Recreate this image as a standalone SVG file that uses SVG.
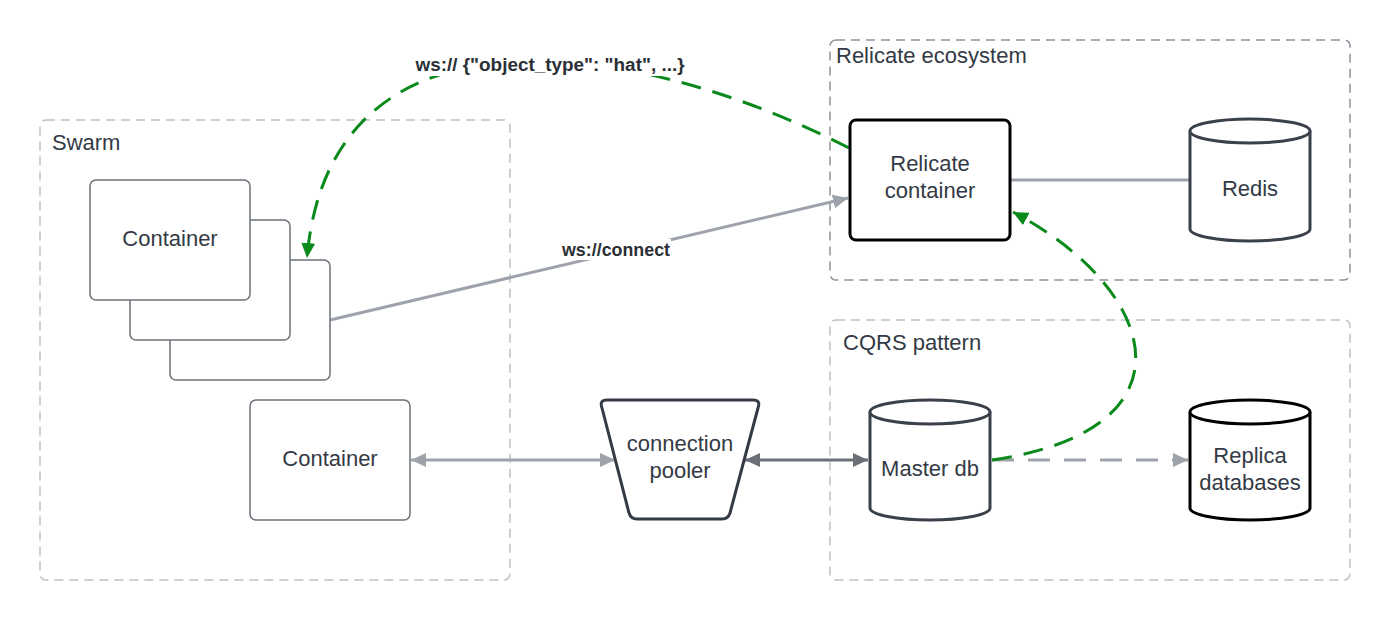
<svg xmlns="http://www.w3.org/2000/svg" width="1390" height="620" viewBox="0 0 1390 620">
  <style>
    .grp { fill: none; stroke: #bcc0c7; stroke-width: 1.5; stroke-dasharray: 9 6; }
    .grp-dark { stroke: #8e929a; }
    .grp-label { font-family: "Liberation Sans", Arial, sans-serif; font-size: 22px; fill: #333a45; }
    .label { font-family: "Liberation Sans", Arial, sans-serif; font-size: 22px; fill: #333a45; text-anchor: middle; }
    .edge-label { font-family: "Liberation Sans", Arial, sans-serif; font-size: 18px; font-weight: bold; fill: #2b2f36; text-anchor: middle; }
    .box { fill: #ffffff; stroke: #6b7079; stroke-width: 1.5; }
    .db { fill: #ffffff; stroke: #3a414a; stroke-width: 3; }
    .db-black { fill: #ffffff; stroke: #000000; stroke-width: 3; }
    .gray { fill: none; stroke: #9ea3ab; stroke-width: 3; }
    .darkgray { fill: none; stroke: #6b7078; stroke-width: 3; }
    .green { fill: none; stroke: #0a8a1a; stroke-width: 3; stroke-dasharray: 20 12; }
  </style>
  <defs>
    <marker id="arrow-gray" markerUnits="userSpaceOnUse" markerWidth="16" markerHeight="14" refX="15" refY="7" orient="auto-start-reverse">
      <path d="M0,0 L15,7 L0,14 z" fill="#9ea3ab"/>
    </marker>
    <marker id="arrow-dark" markerUnits="userSpaceOnUse" markerWidth="16" markerHeight="14" refX="15" refY="7" orient="auto-start-reverse">
      <path d="M0,0 L15,7 L0,14 z" fill="#6b7078"/>
    </marker>
    <marker id="arrow-green" markerUnits="userSpaceOnUse" markerWidth="16" markerHeight="14" refX="15" refY="7" orient="auto">
      <path d="M0,0 L15,7 L0,14 z" fill="#0a8a1a"/>
    </marker>
  </defs>

  <rect width="1390" height="620" fill="#ffffff"/>

  <!-- Groups -->
  <g id="swarm">
    <rect class="grp" x="40" y="120" width="470" height="460" rx="6"/>
    <text class="grp-label" x="52" y="150">Swarm</text>
  </g>
  <g id="relicate-ecosystem">
    <rect class="grp grp-dark" x="830" y="40" width="520" height="240" rx="6"/>
    <text class="grp-label" x="836" y="63">Relicate ecosystem</text>
  </g>
  <g id="cqrs-pattern">
    <rect class="grp" x="830" y="320" width="520" height="260" rx="6"/>
    <text class="grp-label" x="843" y="350">CQRS pattern</text>
  </g>

  <!-- Connectors -->
  <g id="connectors">
    <path class="gray" d="M330,320 L848,198" marker-end="url(#arrow-gray)"/>
    <path class="gray" d="M1011,180 L1190,180"/>
    <path class="gray" d="M411,460 L615,460" marker-start="url(#arrow-gray)" marker-end="url(#arrow-gray)"/>
    <path class="darkgray" d="M745,460 L868,460" marker-start="url(#arrow-dark)" marker-end="url(#arrow-dark)"/>
    <path class="gray" d="M992,460 L1188,460" stroke-dasharray="22 14" marker-end="url(#arrow-gray)"/>
    <path class="green" d="M849,148 C640,40 330,-10 307,258" marker-end="url(#arrow-green)"/>
    <path class="green" d="M992,460 C1200,430 1160,290 1013,212" marker-end="url(#arrow-green)"/>
    <rect x="561" y="239" width="110" height="21" fill="#ffffff"/>
    <text class="edge-label" x="616" y="256" textLength="108" lengthAdjust="spacingAndGlyphs">ws://connect</text>
    <rect x="414" y="54" width="274" height="22" fill="#ffffff"/>
    <text class="edge-label" x="550" y="71" textLength="269" lengthAdjust="spacingAndGlyphs">ws:// {"object_type": "hat", ...}</text>
  </g>

  <!-- Container stack -->
  <g id="container-stack-3">
    <rect class="box" x="170" y="260" width="160" height="120" rx="6"/>
  </g>
  <g id="container-stack-2">
    <rect class="box" x="130" y="220" width="160" height="120" rx="6"/>
  </g>
  <g id="container-stack-1">
    <rect class="box" x="90" y="180" width="160" height="120" rx="6"/>
    <text class="label" x="170" y="246">Container</text>
  </g>

  <g id="container">
    <rect class="box" x="250" y="400" width="160" height="120" rx="6"/>
    <text class="label" x="330" y="466">Container</text>
  </g>

  <g id="connection-pooler">
    <path d="M607,400 L753,400 Q761,400 758,408 L730,513 Q728,519 722,519 L637,519 Q631,519 629,513 L602,408 Q599,400 607,400 Z" fill="#ffffff" stroke="#333a45" stroke-width="3" stroke-linejoin="round"/>
    <text class="label" x="680" y="451">connection</text>
    <text class="label" x="680" y="478">pooler</text>
  </g>

  <g id="relicate-container">
    <rect x="850" y="120" width="160" height="120" rx="6" fill="#ffffff" stroke="#000000" stroke-width="3"/>
    <text class="label" x="930" y="171">Relicate</text>
    <text class="label" x="930" y="198">container</text>
  </g>

  <g id="redis">
    <path class="db" d="M1190,131 L1190,229 A60,12 0 0 0 1310,229 L1310,131 A60,12 0 0 0 1190,131 Z"/>
    <path class="db" d="M1190,131 A60,12 0 0 0 1310,131" fill="none"/>
    <text class="label" x="1250" y="196">Redis</text>
  </g>

  <g id="master-db">
    <path class="db" d="M870,412 L870,508 A60,12 0 0 0 990,508 L990,412 A60,12 0 0 0 870,412 Z"/>
    <path class="db" d="M870,412 A60,12 0 0 0 990,412" fill="none"/>
    <text class="label" x="930" y="476">Master db</text>
  </g>

  <g id="replica-databases">
    <path class="db-black" d="M1190,412 L1190,508 A60,12 0 0 0 1310,508 L1310,412 A60,12 0 0 0 1190,412 Z"/>
    <path class="db-black" d="M1190,412 A60,12 0 0 0 1310,412" fill="none"/>
    <text class="label" x="1250" y="463">Replica</text>
    <text class="label" x="1250" y="490">databases</text>
  </g>
</svg>
